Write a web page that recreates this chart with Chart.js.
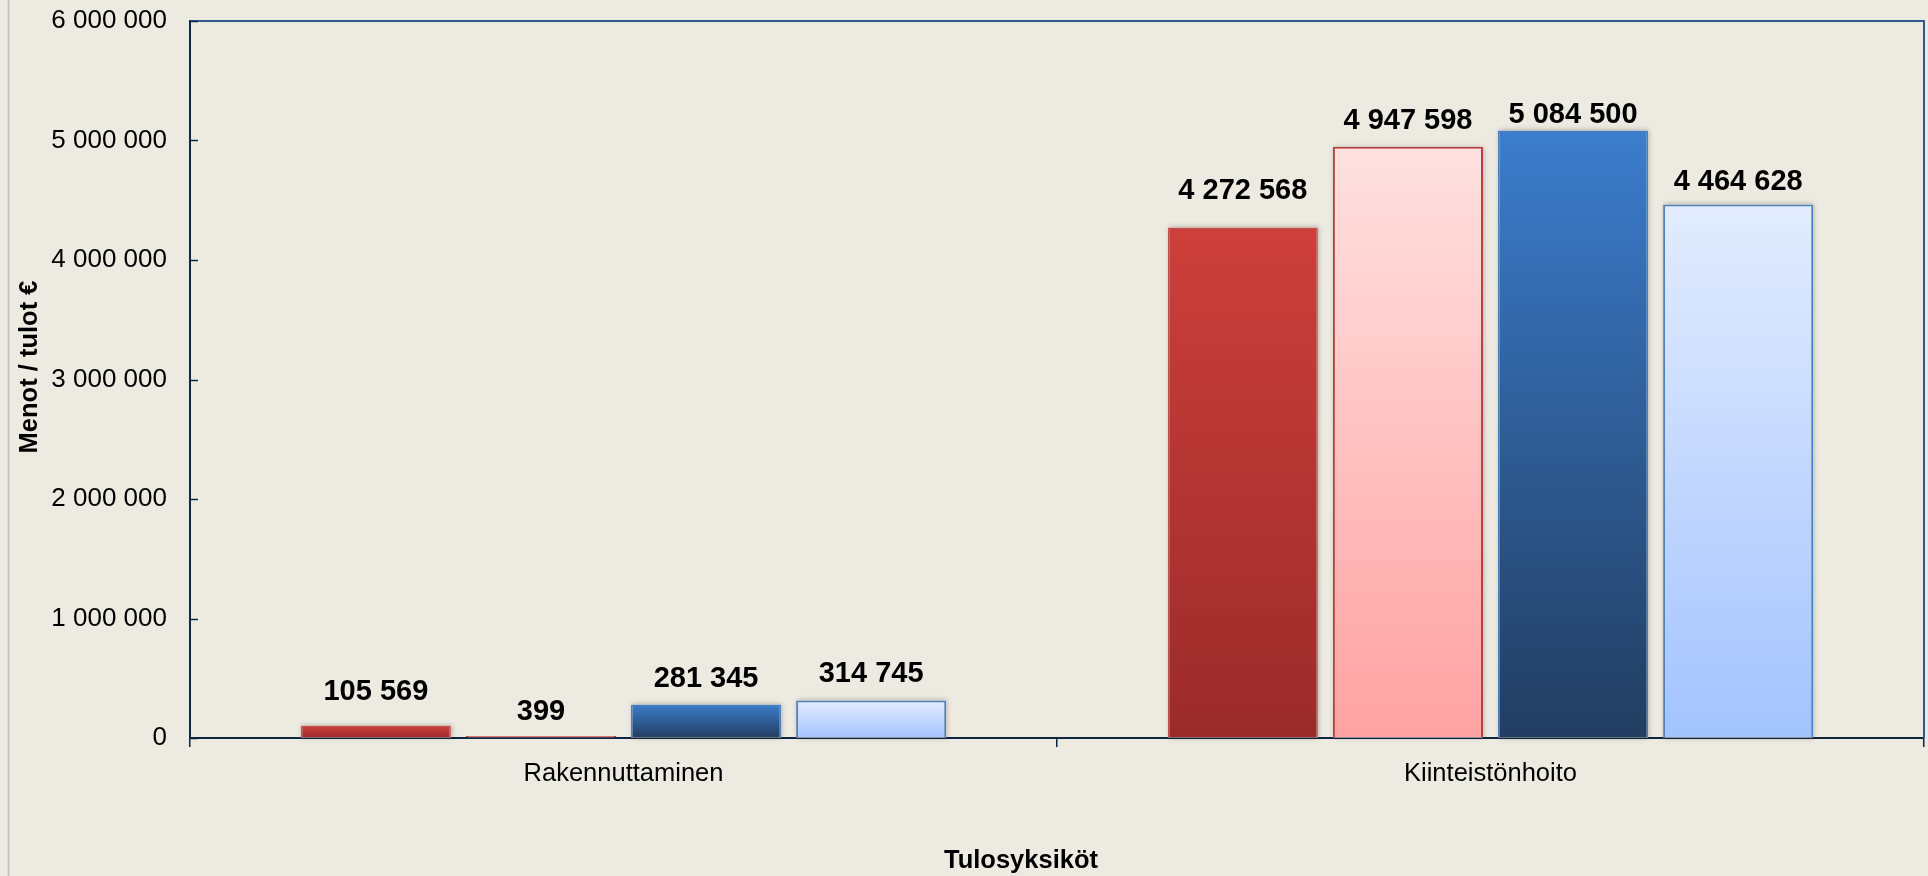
<!DOCTYPE html>
<html>
<head>
<meta charset="utf-8">
<script src="https://cdn.jsdelivr.net/npm/chart.js@4.4.1/dist/chart.umd.min.js"></script>
<style>
html, body { margin: 0; padding: 0; background: #EDEBE1; }
#wrap { width: 1928px; height: 876px; }
</style>
</head>
<body>
<div id="wrap"><canvas id="chart" width="1928" height="876"></canvas></div>
<script>
// data
const categories = ["Rakennuttaminen", "Kiinteistönhoito"];
const sarja1 = [105569, 4272568];
const sarja2 = [399, 4947598];
const sarja3 = [281345, 5084500];
const sarja4 = [314745, 4464628];
const yMin = 0;
const yMax = 6000000;
const yStep = 1000000;
const yTitle = "Menot / tulot €";
const xTitle = "Tulosyksiköt";

const fontFamily = '"Liberation Sans", Arial, sans-serif';
const bg = "#EDEBE1";
const axisColor = "#0F2540";
const frameColor = "#2F5A8E";

function fmt(v) {
    return String(v).replace(/\B(?=(\d{3})+(?!\d))/g, " ");
}

// vertical gradient over each bar's own height
function barGradient(top, bottom) {
    return ctx => {
        const chart = ctx.chart;
        if (!chart.chartArea || ctx.type !== "data") return bottom;
        const y = chart.scales.y;
        const y0 = y.getPixelForValue(ctx.raw);
        const y1 = y.getPixelForValue(0);
        if (Math.abs(y1 - y0) < 1) return bottom;
        const g = chart.ctx.createLinearGradient(0, y0, 0, y1);
        g.addColorStop(0, top);
        g.addColorStop(1, bottom);
        return g;
    };
}

const decor = {
    id: "decor",
    beforeDraw(chart) {
        const c = chart.ctx;
        c.save();
        c.fillStyle = bg;
        c.fillRect(0, 0, chart.width, chart.height);
        c.strokeStyle = "#BDBDBD";
        c.lineWidth = 1.5;
        c.beginPath();
        c.moveTo(8.5, 0);
        c.lineTo(8.5, chart.height);
        c.stroke();
        c.restore();
    },
    beforeDatasetsDraw(chart) {
        const c = chart.ctx;
        c.save();
        c.shadowColor = "rgba(0,0,0,0.28)";
        c.shadowBlur = 5;
        c.shadowOffsetX = 1;
        c.shadowOffsetY = 0;
        c.fillStyle = bg;
        chart.data.datasets.forEach((ds, i) => {
            chart.getDatasetMeta(i).data.forEach(bar => {
                const h = bar.base - bar.y;
                if (h < 3) return;
                c.fillRect(bar.x - bar.width / 2, bar.y, bar.width, h);
            });
        });
        c.restore();
    },
    afterDraw(chart) {
        const c = chart.ctx;
        const a = chart.chartArea;
        const ys = chart.scales.y;
        c.save();
        // frame top and right
        c.strokeStyle = frameColor;
        c.lineWidth = 2;
        c.beginPath();
        c.moveTo(a.left, a.top);
        c.lineTo(a.right, a.top);
        c.lineTo(a.right, a.bottom);
        c.stroke();
        // inward ticks on y axis
        c.strokeStyle = axisColor;
        c.lineWidth = 1.5;
        ys.ticks.forEach(t => {
            const py = Math.round(ys.getPixelForValue(t.value)) + 0.5;
            c.beginPath();
            c.moveTo(a.left, py);
            c.lineTo(a.left + 8, py);
            c.stroke();
        });
        // axis titles
        c.fillStyle = "#000";
        c.font = "bold 25.5px " + fontFamily;
        c.textAlign = "center";
        c.textBaseline = "alphabetic";
        c.fillText(xTitle, 1021, 868);
        c.translate(37, 367);
        c.rotate(-Math.PI / 2);
        c.fillText(yTitle, 0, 0);
        c.restore();
    }
};

const valueLabels = {
    id: "valueLabels",
    afterDatasetsDraw(chart, args, opts) {
        const c = chart.ctx;
        c.save();
        c.font = "bold 29px " + fontFamily;
        c.fillStyle = "#000";
        c.textAlign = "center";
        c.textBaseline = "alphabetic";
        chart.data.datasets.forEach((ds, i) => {
            const meta = chart.getDatasetMeta(i);
            meta.data.forEach((bar, j) => {
                const top = chart.scales.y.getPixelForValue(ds.data[j]);
                c.fillText(fmt(ds.data[j]), bar.x, top - opts.gaps[i][j]);
            });
        });
        c.restore();
    }
};

new Chart(document.getElementById("chart"), {
    type: "bar",
    data: {
        labels: categories,
        datasets: [
            { label: "Sarja 1", data: sarja1, backgroundColor: barGradient("#CD3F3B", "#9A2B2A"), borderColor: "#C0504D", borderWidth: 1.5 },
            { label: "Sarja 2", data: sarja2, backgroundColor: barGradient("#FFE1E1", "#FFA2A2"), borderColor: "#B8403D", borderWidth: 2, minBarLength: 2 },
            { label: "Sarja 3", data: sarja3, backgroundColor: barGradient("#3C7DCD", "#223D60"), borderColor: "#4A7EBB", borderWidth: 1.5 },
            { label: "Sarja 4", data: sarja4, backgroundColor: barGradient("#E3ECFE", "#A3C3FE"), borderColor: "#4F81BD", borderWidth: 2 }
        ]
    },
    options: {
        responsive: false,
        animation: false,
        categoryPercentage: 0.7617,
        barPercentage: 0.909,
        layout: { padding: { top: 21, right: 4, left: 0, bottom: 0 } },
        plugins: {
            legend: { display: false },
            tooltip: { enabled: false },
            valueLabels: { gaps: [[25, 28], [18, 18], [17, 7], [18, 14]] }
        },
        scales: {
            x: {
                offset: true,
                ticks: { padding: 12, color: "#000", font: { size: 25.5, family: fontFamily } },
                grid: { offset: true, drawOnChartArea: false, drawTicks: true, tickLength: 9, color: axisColor, lineWidth: 1.5 },
                border: { display: true, color: axisColor, width: 2 },
                afterFit: s => { s.height = 138; }
            },
            y: {
                min: yMin,
                max: yMax,
                ticks: { stepSize: yStep, padding: 23, color: "#000", font: { size: 26, family: fontFamily }, callback: v => fmt(v) },
                grid: { drawOnChartArea: false, drawTicks: false },
                border: { display: true, color: axisColor, width: 2 },
                afterFit: s => { s.width = 190; s.paddingTop = 0; s.paddingBottom = 0; }
            }
        }
    },
    plugins: [decor, valueLabels]
});
</script>
</body>
</html>
